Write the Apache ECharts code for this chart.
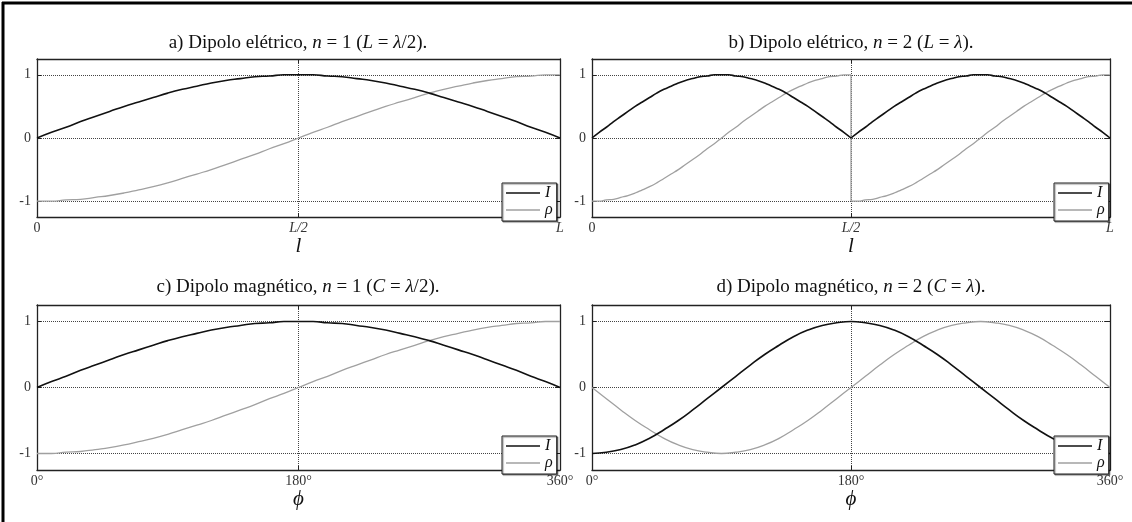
<!DOCTYPE html>
<html>
<head>
<meta charset="utf-8">
<script src="https://cdn.jsdelivr.net/npm/echarts@6/dist/echarts.min.js"></script>
<style>
  html, body { margin: 0; padding: 0; background: #fff; }
  #chart { width: 1132px; height: 522px; }
</style>
</head>
<body>
<div id="chart"></div>
<script>
// Sample positions along the horizontal axis (0..360, i.e. 0..L or 0°..360°)
const samplesFull = [0,10,20,30,40,50,60,70,80,90,100,110,120,130,140,150,160,170,180,
  190,200,210,220,230,240,250,260,270,280,290,300,310,320,330,340,350,360];
// Panel b is made of two identical half-waves: first and second half of the dipole
const samplesHalf1 = [0,5,10,15,20,25,30,35,40,45,50,55,60,65,70,75,80,85,90,
  95,100,105,110,115,120,125,130,135,140,145,150,155,160,165,170,175,180];
const samplesHalf2 = [180,185,190,195,200,205,210,215,220,225,230,235,240,245,250,255,260,265,270,
  275,280,285,290,295,300,305,310,315,320,325,330,335,340,345,350,355,360];

// n = 1 current and charge (panels a and c), also each half-wave of panel b
const currentN1 = [0,0.09,0.17,0.26,0.34,0.42,0.50,0.57,0.64,0.71,0.77,0.82,0.87,0.91,0.94,0.97,0.98,
  1.00,1.00,1.00,
  0.98,0.97,0.94,0.91,0.87,0.82,0.77,0.71,0.64,0.57,0.50,0.42,0.34,0.26,0.17,0.09,0];
const chargeN1 = [-1,-1.00,-0.98,-0.97,-0.94,-0.91,-0.87,-0.82,-0.77,-0.71,-0.64,-0.57,-0.50,-0.42,-0.34,-0.26,-0.17,-0.09,
  0,
  0.09,0.17,0.26,0.34,0.42,0.50,0.57,0.64,0.71,0.77,0.82,0.87,0.91,0.94,0.97,0.98,1.00,1];

// Magnetic dipole, n = 2 (panel d)
const currentMagN2 = [-1,-0.98,-0.94,-0.87,-0.77,-0.64,-0.50,-0.34,-0.17,0,
  0.17,0.34,0.50,0.64,0.77,0.87,0.94,0.98,1,
  0.98,0.94,0.87,0.77,0.64,0.50,0.34,0.17,0,
  -0.17,-0.34,-0.50,-0.64,-0.77,-0.87,-0.94,-0.98,-1];
const chargeMagN2 = [0,-0.17,-0.34,-0.50,-0.64,-0.77,-0.87,-0.94,-0.98,-1,
  -0.98,-0.94,-0.87,-0.77,-0.64,-0.50,-0.34,-0.17,0,
  0.17,0.34,0.50,0.64,0.77,0.87,0.94,0.98,1,
  0.98,0.94,0.87,0.77,0.64,0.50,0.34,0.17,0];

// Charge jump at the feed point of the full-wave dipole (panel b)
const chargeJumpB = [1, -1];

// Tick positions and labels
const xTickValues = [0, 180, 360];
const lengthTickLabels = ['0', '{i|L/2}', '{i|L}'];
const angleTickLabels = ['0°', '180°', '360°'];
const yTickValues = [-1, 0, 1];

const titles = [
  'a) Dipolo elétrico, {i|n} = 1 ({i|L} = {i|λ}/2).',
  'b) Dipolo elétrico, {i|n} = 2 ({i|L} = {i|λ}).',
  'c) Dipolo magnético, {i|n} = 1 ({i|C} = {i|λ}/2).',
  'd) Dipolo magnético, {i|n} = 2 ({i|C} = {i|λ}).'
];
const axisNames = ['l', 'l', 'ϕ', 'ϕ'];

const SERIF = '"Liberation Serif", "DejaVu Serif", "Times New Roman", serif';
const BLACK = '#111111';
const GREY = '#a0a0a0';
const TITLE_SIZE = 19;
const TICK_SIZE = 14;

const zip = (xs, ys) => xs.map((x, i) => [x, ys[i]]);

const grids = [
  { left: 37, top: 59, width: 523, height: 158 },
  { left: 592, top: 59, width: 518, height: 158 },
  { left: 37, top: 305, width: 523, height: 165 },
  { left: 592, top: 305, width: 518, height: 165 }
];

const xAxes = [], yAxes = [];
grids.forEach((g, p) => {
  const labels = p < 2 ? lengthTickLabels : angleTickLabels;
  const border = { show: true, onZero: false, lineStyle: { color: '#222', width: 1.3 } };
  xAxes.push({
    type: 'value', gridIndex: p, min: 0, max: 360, position: 'bottom',
    axisLine: border,
    axisTick: { show: true, inside: true, length: 4, customValues: xTickValues, lineStyle: { color: '#222' } },
    axisLabel: {
      customValues: xTickValues, margin: 4,
      fontFamily: SERIF, fontSize: TICK_SIZE, color: '#333',
      formatter: v => labels[xTickValues.indexOf(v)] || '',
      rich: { i: { fontFamily: SERIF, fontSize: TICK_SIZE, fontStyle: 'italic', color: '#333' } }
    },
    splitLine: { show: true, lineStyle: { type: 'dotted', color: '#444', width: 1 } },
    name: axisNames[p], nameLocation: 'middle', nameGap: p < 2 ? 18 : 19,
    nameTextStyle: { fontFamily: SERIF, fontStyle: 'italic', fontSize: 21, color: BLACK }
  });
  xAxes.push({
    type: 'value', gridIndex: p, min: 0, max: 360, position: 'top',
    axisLine: border,
    axisTick: { show: true, inside: true, length: 4, customValues: xTickValues, lineStyle: { color: '#222' } },
    axisLabel: { show: false },
    splitLine: { show: false }
  });
  yAxes.push({
    type: 'value', gridIndex: p, min: -1.25, max: 1.25, position: 'left',
    axisLine: border,
    axisTick: { show: true, inside: true, length: 4, customValues: yTickValues, lineStyle: { color: '#222' } },
    axisLabel: {
      customValues: yTickValues, margin: 6,
      fontFamily: SERIF, fontSize: TICK_SIZE, color: '#333'
    },
    splitLine: { show: true, lineStyle: { type: 'dotted', color: '#444', width: 1 } }
  });
  yAxes.push({
    type: 'value', gridIndex: p, min: -1.25, max: 1.25, position: 'right',
    axisLine: border,
    axisTick: { show: true, inside: true, length: 5, customValues: yTickValues, lineStyle: { color: '#222' } },
    axisLabel: { show: false },
    splitLine: { show: false }
  });
});

function curve(p, name, data, color, width) {
  return {
    type: 'line', name, xAxisIndex: 2 * p, yAxisIndex: 2 * p,
    data, symbol: 'none', smooth: true, connectNulls: false,
    lineStyle: { color, width }, itemStyle: { color },
    animation: false, z: name === 'I' ? 3 : 2
  };
}

const gap = [180, '-'];
const series = [
  curve(0, 'I', zip(samplesFull, currentN1), BLACK, 1.6),
  curve(0, 'ρ', zip(samplesFull, chargeN1), GREY, 1.3),
  curve(1, 'I', [...zip(samplesHalf1, currentN1), gap, ...zip(samplesHalf2, currentN1)], BLACK, 1.6),
  curve(1, 'ρ', [...zip(samplesHalf1, chargeN1), gap,
                 ...zip([180, 180], chargeJumpB), gap,
                 ...zip(samplesHalf2, chargeN1)], GREY, 1.3),
  curve(2, 'I', zip(samplesFull, currentN1), BLACK, 1.6),
  curve(2, 'ρ', zip(samplesFull, chargeN1), GREY, 1.3),
  curve(3, 'I', zip(samplesFull, currentMagN2), BLACK, 1.6),
  curve(3, 'ρ', zip(samplesFull, chargeMagN2), GREY, 1.3)
];

// Legend keys drawn as plain line strokes
const LINE_ICON = 'path://M0,0 L100,0 L100,4.5 L0,4.5 Z';
const legendPos = [
  { left: 502, top: 183 }, { left: 1054, top: 183 },
  { left: 502, top: 436 }, { left: 1054, top: 436 }
];
const legends = legendPos.map(pos => ({
  ...pos, orient: 'vertical',
  data: [{ name: 'I', icon: LINE_ICON }, { name: 'ρ', icon: LINE_ICON }],
  itemWidth: 34, itemHeight: 12, itemGap: 1,
  padding: [2, 4, 3, 4],
  backgroundColor: '#fff', borderColor: '#222', borderWidth: 1,
  shadowColor: 'rgba(0,0,0,0.45)', shadowBlur: 1, shadowOffsetX: 1, shadowOffsetY: 1,
  selectedMode: false,
  textStyle: { fontFamily: SERIF, fontStyle: 'italic', fontSize: 16, color: BLACK, lineHeight: 12 }
}));

const titleCenters = [[298, 43], [851, 43], [298, 287], [851, 287]];
const graphics = titleCenters.map((c, p) => ({
  type: 'text', x: c[0], y: c[1], z: 10,
  style: {
    text: titles[p], align: 'center', verticalAlign: 'middle',
    fontFamily: SERIF, fontSize: TITLE_SIZE, fill: BLACK,
    rich: { i: { fontFamily: SERIF, fontSize: TITLE_SIZE, fontStyle: 'italic', fill: BLACK } }
  }
}));
// Figure frame (top and left edges)
graphics.push(
  { type: 'line', shape: { x1: 2, y1: 3, x2: 1132, y2: 3 }, style: { stroke: '#000', lineWidth: 3 } },
  { type: 'line', shape: { x1: 3, y1: 2, x2: 3, y2: 522 }, style: { stroke: '#000', lineWidth: 3 } }
);

const chart = echarts.init(document.getElementById('chart'), null, { renderer: 'canvas' });
chart.setOption({
  backgroundColor: '#fff',
  animation: false,
  grid: grids,
  xAxis: xAxes,
  yAxis: yAxes,
  legend: legends,
  series,
  graphic: graphics
});
</script>
</body>
</html>
